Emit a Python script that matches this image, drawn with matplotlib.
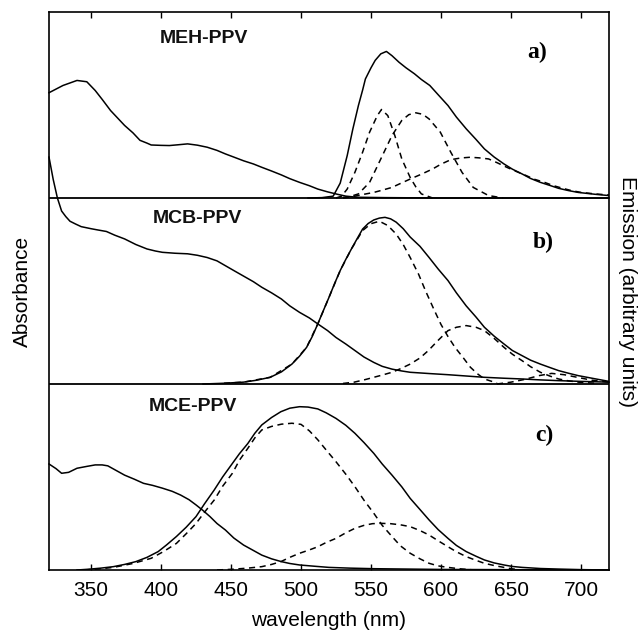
import matplotlib
matplotlib.use("Agg")
import matplotlib.pyplot as plt

# ---------------- data ----------------
# wavelength axis
x_ticks = [350, 400, 450, 500, 550, 600, 650, 700]
x_range = [320, 720]

# Panel a) MEH-PPV
a_abs_x = [320, 330, 340, 347, 353, 358, 364, 369, 374, 380, 385, 390, 393, 400, 406, 412, 419, 426, 433, 440, 446, 452, 459, 466, 472, 479, 486, 492, 499, 506, 512, 519, 526, 532, 540, 560, 600, 650, 720]
a_abs_y = [0.566, 0.605, 0.632, 0.625, 0.578, 0.53, 0.47, 0.43, 0.39, 0.35, 0.31, 0.295, 0.285, 0.283, 0.282, 0.286, 0.291, 0.284, 0.273, 0.256, 0.237, 0.22, 0.20, 0.183, 0.165, 0.145, 0.124, 0.104, 0.084, 0.066, 0.048, 0.033, 0.02, 0.01, 0.004, 0.002, 0.0, 0.0, 0.0]
a_em_x = [505, 515, 523, 528, 533, 537, 541, 544, 546, 550, 553, 557, 561, 565, 570, 575, 581, 586, 592, 598, 605, 611, 618, 625, 631, 638, 645, 651, 658, 664, 671, 678, 684, 691, 698, 710, 720]
a_em_y = [0.0, 0.002, 0.01, 0.08, 0.228, 0.37, 0.497, 0.58, 0.64, 0.70, 0.74, 0.775, 0.788, 0.765, 0.73, 0.70, 0.668, 0.637, 0.605, 0.555, 0.497, 0.435, 0.372, 0.315, 0.264, 0.22, 0.183, 0.155, 0.129, 0.105, 0.084, 0.067, 0.052, 0.04, 0.03, 0.02, 0.013]
a_c1_x = [525, 529, 533, 538.5, 544, 549, 554.5, 557.5, 562, 567, 572, 578, 582, 586, 594]
a_c1_y = [0.0, 0.01, 0.048, 0.138, 0.246, 0.354, 0.443, 0.476, 0.443, 0.336, 0.21, 0.11, 0.06, 0.022, 0.0]
a_c2_x = [530, 533, 541, 549, 557, 565, 572, 577, 582, 587, 591.5, 599.5, 607, 615, 623, 634, 644.5]
a_c2_y = [0.0, 0.003, 0.022, 0.084, 0.21, 0.336, 0.417, 0.448, 0.458, 0.45, 0.425, 0.354, 0.246, 0.138, 0.057, 0.013, 0.0]
a_c3_x = [530, 538.5, 545, 552, 558, 565, 571, 578, 586, 594, 600, 607, 614, 620.7, 627, 634, 640, 647, 654, 661, 667, 674, 680, 687, 693, 700, 710, 720]
a_c3_y = [0.003, 0.01, 0.02, 0.03, 0.042, 0.057, 0.078, 0.102, 0.128, 0.156, 0.182, 0.206, 0.215, 0.219, 0.216, 0.21, 0.19, 0.165, 0.142, 0.12, 0.1, 0.084, 0.067, 0.052, 0.04, 0.03, 0.022, 0.016]

# Panel b) MCB-PPV
b_abs_x = [320, 323, 326, 329, 332, 335, 339, 343, 350, 355, 361, 367, 374, 382, 390, 396, 401, 410, 419, 426, 433, 440, 446, 452, 459, 466, 472, 479, 486, 492, 499, 506, 512, 519, 525, 532, 538.5, 545, 552, 558, 565, 572, 578, 592, 605, 618, 631, 645, 658, 671, 684, 700, 720]
b_abs_y = [1.22, 1.10, 1.0, 0.93, 0.9, 0.875, 0.86, 0.846, 0.835, 0.828, 0.82, 0.80, 0.78, 0.75, 0.726, 0.715, 0.708, 0.703, 0.70, 0.692, 0.68, 0.662, 0.636, 0.61, 0.58, 0.55, 0.52, 0.49, 0.457, 0.42, 0.385, 0.355, 0.323, 0.287, 0.25, 0.215, 0.18, 0.145, 0.116, 0.095, 0.08, 0.07, 0.063, 0.056, 0.05, 0.043, 0.036, 0.031, 0.027, 0.022, 0.018, 0.014, 0.01]
b_em_x = [430, 445, 459, 468, 478, 486, 493.5, 499, 504, 508, 512, 516, 520, 524, 528, 532, 536, 540, 544, 548, 552, 556, 560, 564, 568, 573, 578, 585, 591.5, 598, 605, 611, 618, 625, 631, 638, 645, 651, 658, 664, 671, 678, 684, 691, 698, 710, 720]
b_em_y = [0.0, 0.004, 0.01, 0.02, 0.036, 0.065, 0.107, 0.15, 0.197, 0.255, 0.323, 0.395, 0.466, 0.54, 0.61, 0.67, 0.726, 0.78, 0.833, 0.863, 0.882, 0.892, 0.896, 0.888, 0.87, 0.835, 0.79, 0.74, 0.68, 0.618, 0.556, 0.49, 0.42, 0.36, 0.305, 0.257, 0.215, 0.18, 0.152, 0.128, 0.107, 0.088, 0.072, 0.058, 0.045, 0.028, 0.014]
b_c1_x = [445, 459, 478, 493.5, 504, 512, 520, 528, 536, 544, 550, 556, 562, 568, 573, 578, 584, 589, 595, 600, 605, 610, 616, 621, 626, 631, 640]
b_c1_y = [0.004, 0.01, 0.036, 0.107, 0.197, 0.323, 0.466, 0.61, 0.726, 0.825, 0.862, 0.875, 0.852, 0.806, 0.75, 0.68, 0.59, 0.50, 0.40, 0.32, 0.255, 0.197, 0.14, 0.09, 0.055, 0.027, 0.005]
b_c2_x = [530, 538, 545, 552, 558, 565, 571, 578, 585, 591, 598, 605, 611, 618, 625, 631, 638, 645, 651, 658, 664, 671, 678, 684, 691, 698, 710]
b_c2_y = [0.003, 0.01, 0.022, 0.036, 0.048, 0.063, 0.082, 0.107, 0.14, 0.18, 0.235, 0.287, 0.305, 0.314, 0.305, 0.287, 0.245, 0.197, 0.16, 0.125, 0.093, 0.063, 0.042, 0.027, 0.017, 0.01, 0.004]
b_c3_x = [640, 650, 660, 670, 679, 688, 698, 708, 720]
b_c3_y = [0.0, 0.01, 0.025, 0.045, 0.057, 0.05, 0.035, 0.02, 0.01]

# Panel c) MCE-PPV
c_abs_x = [320, 325, 329, 334, 340, 347, 353, 358, 362, 368, 374, 381, 387.5, 394, 401, 408, 414, 420, 425, 430, 435, 440, 446, 452, 459, 466, 472, 479, 486, 492, 499, 510, 520, 535, 552, 600, 720]
c_abs_y = [0.57, 0.545, 0.52, 0.525, 0.547, 0.557, 0.565, 0.565, 0.56, 0.535, 0.51, 0.488, 0.466, 0.455, 0.44, 0.423, 0.403, 0.378, 0.35, 0.32, 0.287, 0.25, 0.215, 0.172, 0.134, 0.105, 0.08, 0.06, 0.045, 0.035, 0.027, 0.02, 0.014, 0.01, 0.007, 0.003, 0.0]
c_em_x = [340, 348, 357, 366, 374, 382, 390, 398, 404, 411, 418, 425, 431, 438, 444, 451, 456, 462, 467, 472, 479, 485.6, 492, 499, 505, 512, 518, 525, 532, 538.5, 545, 552, 558, 565, 572, 578, 585, 591.5, 598, 605, 611, 618, 625, 631, 638, 645, 651, 658, 671, 684, 700, 720]
c_em_y = [0.0, 0.004, 0.01, 0.018, 0.03, 0.045, 0.068, 0.099, 0.135, 0.18, 0.23, 0.287, 0.355, 0.43, 0.5, 0.573, 0.625, 0.68, 0.735, 0.78, 0.82, 0.851, 0.87, 0.878, 0.876, 0.866, 0.845, 0.815, 0.778, 0.735, 0.685, 0.627, 0.57, 0.51, 0.447, 0.385, 0.325, 0.269, 0.217, 0.17, 0.132, 0.099, 0.074, 0.054, 0.038, 0.027, 0.019, 0.014, 0.008, 0.005, 0.002, 0.0]
c_c1_x = [345, 356, 366, 380, 393, 402, 411, 418, 425, 431, 438, 444, 451, 456, 462, 467, 472, 479, 486, 493.5, 500, 506, 512, 518, 525, 532, 538.5, 545, 552, 558, 565, 571, 578, 585, 591.5, 598, 605, 614, 624]
c_c1_y = [0.0, 0.006, 0.014, 0.035, 0.063, 0.1, 0.143, 0.195, 0.25, 0.31, 0.376, 0.45, 0.52, 0.59, 0.654, 0.71, 0.753, 0.772, 0.784, 0.789, 0.783, 0.748, 0.70, 0.645, 0.582, 0.515, 0.448, 0.375, 0.305, 0.24, 0.18, 0.13, 0.09, 0.06, 0.036, 0.022, 0.014, 0.006, 0.0]
c_c2_x = [440, 451, 462, 472, 479, 485.6, 492, 499, 506, 512, 518, 525, 532, 538.5, 545, 551, 557, 564, 571, 578, 585, 591.5, 598, 605, 611, 618, 625, 631, 638, 645, 651, 658]
c_c2_y = [0.0, 0.004, 0.01, 0.018, 0.03, 0.045, 0.068, 0.09, 0.108, 0.125, 0.148, 0.17, 0.2, 0.224, 0.24, 0.249, 0.251, 0.249, 0.243, 0.233, 0.212, 0.188, 0.157, 0.125, 0.098, 0.072, 0.052, 0.036, 0.024, 0.014, 0.006, 0.0]

panels = [
    dict(name="MEH-PPV", tag="a)", abs=(a_abs_x, a_abs_y), em=(a_em_x, a_em_y),
         comps=[(a_c1_x, a_c1_y), (a_c2_x, a_c2_y), (a_c3_x, a_c3_y)],
         name_pos=(399, 0.86), tag_pos=(669, 0.78)),
    dict(name="MCB-PPV", tag="b)", abs=(b_abs_x, b_abs_y), em=(b_em_x, b_em_y),
         comps=[(b_c1_x, b_c1_y), (b_c2_x, b_c2_y), (b_c3_x, b_c3_y)],
         name_pos=(394, 0.89), tag_pos=(673, 0.763)),
    dict(name="MCE-PPV", tag="c)", abs=(c_abs_x, c_abs_y), em=(c_em_x, c_em_y),
         comps=[(c_c1_x, c_c1_y), (c_c2_x, c_c2_y)],
         name_pos=(391, 0.88), tag_pos=(674, 0.726)),
]

# ---------------- figure ----------------
plt.rcParams['font.family'] = ['Liberation Sans', 'DejaVu Sans']
fig = plt.figure(figsize=(6.42, 6.39), dpi=100)
ax = fig.add_axes([49/642, 1-570/639, (609-49)/642, (570-12)/639])

lw = 1.1
for i, p in enumerate(panels):
    off = 2 - i
    ax.plot(p["abs"][0], [v + off for v in p["abs"][1]], color="black", lw=lw, clip_on=False)
    ax.plot(p["em"][0], [v + off for v in p["em"][1]], color="black", lw=lw)
    for cx, cy in p["comps"]:
        ax.plot(cx, [v + off for v in cy], color="black", lw=lw, linestyle=(0, (4, 3)))
    ax.text(p["name_pos"][0], off + p["name_pos"][1], p["name"], fontsize=14,
            fontweight="bold", ha="left", va="center", color="#111111")
    ax.text(p["tag_pos"][0], off + p["tag_pos"][1], p["tag"], fontsize=17,
            fontweight="bold", family="Liberation Serif", ha="center", va="center")

for yline in (1, 2):
    ax.axhline(yline, color="black", lw=1.3)

ax.set_xlim(*x_range)
ax.set_ylim(0, 3)
ax.set_xticks(x_ticks)
ax.set_xticklabels([str(t) for t in x_ticks], fontsize=15)
ax.set_yticks([])
ax.tick_params(axis="x", direction="in", top=True, bottom=True, length=4, width=1, pad=8)
for s in ax.spines.values():
    s.set_linewidth(1.2)

ax.set_xlabel("wavelength (nm)", fontsize=15, labelpad=8)
fig.text(22/642, 1-291/639, "Absorbance", rotation=90, fontsize=15, ha="center", va="center")
fig.text(628/642, 1-291/639, "Emission (arbitrary units)", rotation=270, fontsize=15, ha="center", va="center")

fig.savefig("out.png", dpi=100)
